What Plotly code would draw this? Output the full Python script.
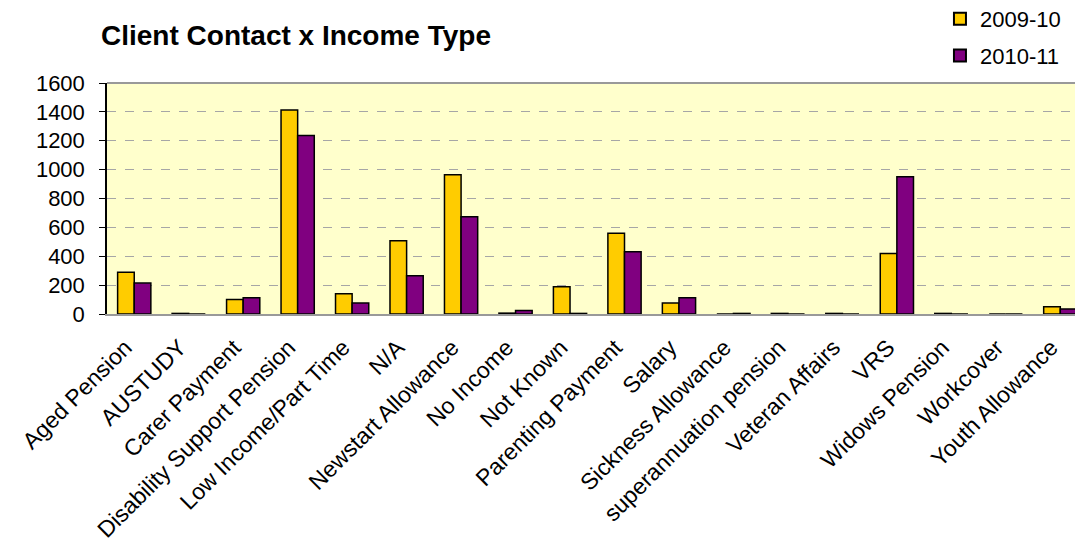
import plotly.graph_objects as go

categories = ["Aged Pension", "AUSTUDY", "Carer Payment", "Disability Support Pension",
              "Low Income/Part Time", "N/A", "Newstart Allowance", "No Income", "Not Known",
              "Parenting Payment", "Salary", "Sickness Allowance", "superannuation pension",
              "Veteran Affairs", "VRS", "Widows Pension", "Workcover", "Youth Allowance"]
y2009 = [290, 4, 101, 1413, 140, 507, 965, 6, 189, 560, 76, 0, 4, 4, 419, 4, 0, 50]
y2010 = [214, 0, 113, 1237, 76, 265, 673, 25, 4, 431, 113, 4, 0, 0, 951, 0, 0, 35]
series_names = ["2009-10", "2010-11"]
colors = ["#FFCC00", "#800080"]

fig = go.Figure()
for name, vals, col in zip(series_names, [y2009, y2010], colors):
    fig.add_trace(go.Bar(
        x=categories, y=vals, name=name, legendgroup=name,
        marker=dict(color=col, line=dict(color="black", width=1.5)),
    ))

fig.update_layout(
    width=1075, height=552,
    margin=dict(l=107, r=0, t=83, b=238, autoexpand=False),
    paper_bgcolor="white", plot_bgcolor="#FFFFCC",
    barmode="group", bargap=0.39, bargroupgap=0,
    font=dict(family="Liberation Sans, Arial", size=22, color="black"),
    title=dict(text="<b>Client Contact x Income Type</b>", x=101/1075, xanchor="left",
               xref="container", y=1-35/552, yanchor="middle", yref="container",
               font=dict(size=28, family="Liberation Sans, Arial", color="black")),
    legend=dict(x=0.8605, y=1.368, xanchor="left", yanchor="top",
                font=dict(size=22), tracegroupgap=5, bgcolor="rgba(0,0,0,0)",
                itemsizing="constant"),
    showlegend=True,
)
fig.update_xaxes(
    range=[-0.5, 17.27], tickangle=-45, showgrid=False, automargin=False,
    showline=True, linecolor="#999999", linewidth=2,
    ticks="", tickfont=dict(size=23), ticklabelstandoff=9, ticklabelshift=-9,
)
fig.update_yaxes(
    range=[0, 1600], dtick=200, showgrid=True, gridcolor="#A6A6A6", griddash="dash",
    gridwidth=1, showline=True, linecolor="black", linewidth=1.5, automargin=False,
    ticks="outside", ticklen=6, tickcolor="black", tickfont=dict(size=22),
    ticklabelstandoff=10,
    zeroline=False, mirror=False,
)
# top border line of plot area
fig.add_shape(type="line", xref="paper", yref="paper", x0=0, x1=1, y0=1, y1=1,
              line=dict(color="#999999", width=2))

fig.write_html("out.html")
